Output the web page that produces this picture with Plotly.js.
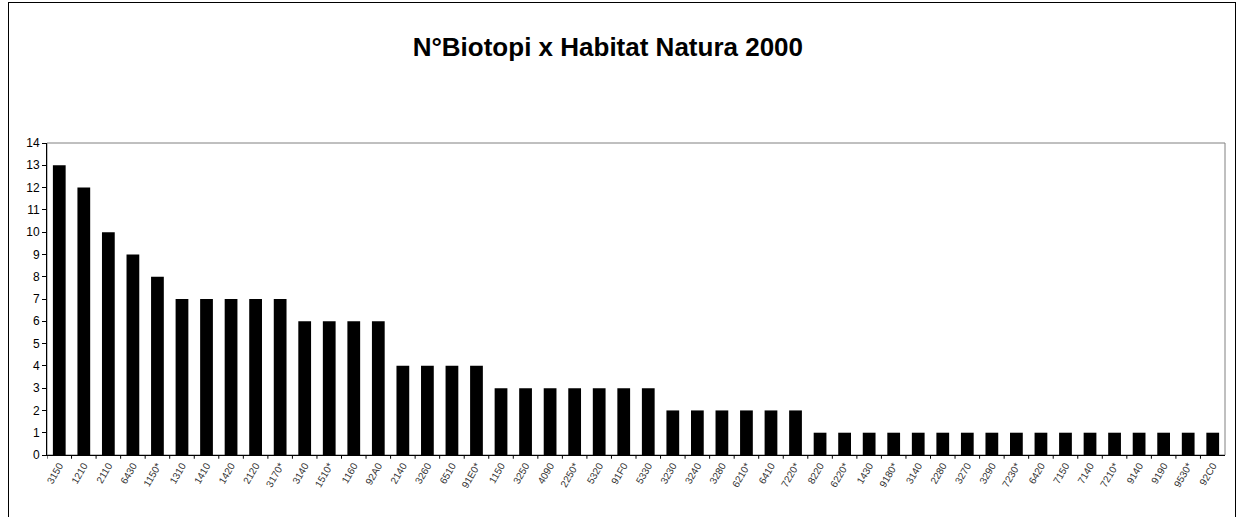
<!DOCTYPE html>
<html>
<head>
<meta charset="utf-8">
<script src="https://cdn.plot.ly/plotly-3.0.1.min.js"></script>
<style>
html,body{margin:0;padding:0;background:#fff;}
#chart{width:1238px;height:517px;position:absolute;left:0;top:0;}
#frame{position:absolute;left:8px;top:2px;width:1226px;height:530px;border:1px solid #000;pointer-events:none;}
</style>
</head>
<body>
<div id="chart"></div>
<div id="frame"></div>
<script>
const habitats = ["3150","1210","2110","6430","1150*","1310","1410","1420","2120","3170*","3140","1510*","1160","92A0","2140","3260",
"6510","91E0*","1150","3250","4090","2250*","5320","91F0",
"5330","3230","3240","3280","6210*","6410","7220*",
"8220","6220*","1430","9180*","3140","2280","3270","3290","7230*",
"6420","7150","7140","7210*","9140","9190","9530*","92C0"];
const biotopi = [13,12,10,9,8,7,7,7,7,7,6,6,6,6,4,4,4,4,3,3,3,3,3,3,3,2,2,2,2,2,2,1,1,1,1,1,1,1,1,1,1,1,1,1,1,1,1,1];
const yTicks = [0,1,2,3,4,5,6,7,8,9,10,11,12,13,14];

const xIdx = habitats.map((h,i)=>i);

Plotly.newPlot('chart', [{
  type:'bar',
  x: xIdx,
  y: biotopi,
  marker:{color:'#000000', line:{width:0}},
  hoverinfo:'y'
}], {
  width:1238, height:517,
  margin:{l:47, r:13, t:143, b:62},
  paper_bgcolor:'#ffffff', plot_bgcolor:'#ffffff',
  bargap:0.48,
  showlegend:false,
  title:{text:'<b>N°Biotopi x Habitat Natura 2000</b>', x:0.491, xanchor:'center', y:0.91, yanchor:'middle',
         font:{family:'"Liberation Sans Narrow", "Arial Narrow", "Liberation Sans", sans-serif', size:26, color:'#000'}},
  xaxis:{
    type:'linear', range:[-0.5, habitats.length-0.5],
    tickmode:'array', tickvals:xIdx, ticktext:habitats,
    tickangle:-60, ticks:'', showgrid:false, zeroline:false,
    showline:true, linecolor:'#000', linewidth:1,
    tickfont:{family:'"Liberation Sans Narrow", "Liberation Sans", sans-serif', size:10, color:'#333'}
  },
  yaxis:{
    range:[0,14], tickmode:'array', tickvals:yTicks,
    ticks:'outside', ticklen:4, tickcolor:'#000', showgrid:false, zeroline:false,
    showline:true, linecolor:'#000', linewidth:1,
    tickfont:{family:'"Liberation Sans Narrow", "Liberation Sans", sans-serif', size:12, color:'#000'}
  },
  shapes:[
    {type:'rect', xref:'paper', yref:'paper', x0:0, x1:1, y0:0, y1:1, line:{color:'#808080', width:1}, layer:'below'}
  ].concat(xIdx.map(i=>({type:'line', xref:'x', yref:'paper', x0:i-0.5, x1:i-0.5, y0:0, y1:-0.012, line:{color:'#000', width:1}})))
}, {displayModeBar:false, staticPlot:true});
</script>
</body>
</html>
